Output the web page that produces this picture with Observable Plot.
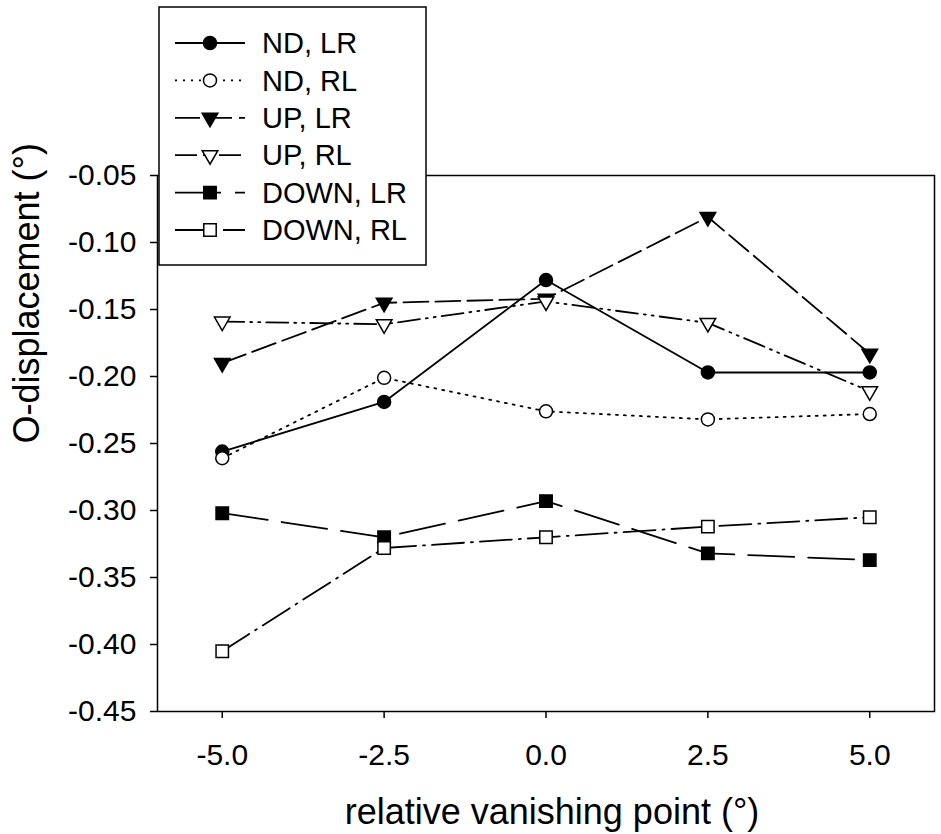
<!DOCTYPE html>
<html>
<head>
<meta charset="utf-8">
<script src="https://cdn.jsdelivr.net/npm/d3@7"></script>
<script src="https://cdn.jsdelivr.net/npm/@observablehq/plot@0.6"></script>
<style>
  html, body { margin: 0; padding: 0; background: white; }
</style>
</head>
<body>
<div id="chart"></div>
<script>
// ---- data ----
const xs = [-5, -2.5, 0, 2.5, 5];
const ndLR   = [-0.256, -0.219, -0.128, -0.197, -0.197];
const ndRL   = [-0.261, -0.201, -0.226, -0.232, -0.228];
const upLR   = [-0.190, -0.145, -0.142, -0.081, -0.183];
const upRL   = [-0.159, -0.161, -0.144, -0.160, -0.211];
const downLR = [-0.302, -0.320, -0.293, -0.332, -0.337];
const downRL = [-0.405, -0.328, -0.320, -0.312, -0.305];

const seriesNames = ["ND, LR", "ND, RL", "UP, LR", "UP, RL", "DOWN, LR", "DOWN, RL"];
const seriesValues = [ndLR, ndRL, upLR, upRL, downLR, downRL];

const xTicks = [-5, -2.5, 0, 2.5, 5];
const xTickLabels = ["-5.0", "-2.5", "0.0", "2.5", "5.0"];
const yTicks = [-0.45, -0.40, -0.35, -0.30, -0.25, -0.20, -0.15, -0.10, -0.05];
const yTickLabels = ["-0.45", "-0.40", "-0.35", "-0.30", "-0.25", "-0.20", "-0.15", "-0.10", "-0.05"];

const xTitle = "relative vanishing point (°)";
const yTitle = "O-displacement (°)";

// ---- styles ----
const styles = [
  {dash: null,               symbol: "circle",   fill: "black", r: 6.5, rotate: 0},
  {dash: "2,6",              symbol: "circle",   fill: "white", r: 6.5, rotate: 0},
  {dash: "25,7",             symbol: "triangle", fill: "black", r: 5.8, rotate: 180},
  {dash: "22,6,2,6,2,6",     symbol: "triangle", fill: "white", r: 5.8, rotate: 180},
  {dash: "46,14",            symbol: "square",   fill: "black", r: 7.0, rotate: 0},
  {dash: "32,7,2,7",         symbol: "square",   fill: "white", r: 7.0, rotate: 0}
];

const rows = [];
seriesNames.forEach((name, s) => {
  xs.forEach((x, i) => rows.push({series: name, s, x, y: seriesValues[s][i]}));
});

const FONT = "'Liberation Sans', Arial, Helvetica, sans-serif";

const marks = [
  Plot.frame({stroke: "black", strokeWidth: 1.5}),
  Plot.axisX({ticks: xTicks, tickFormat: d => xTickLabels[xTicks.indexOf(d)], tickSize: 7, tickPadding: 25, fontSize: 30, label: null, strokeWidth: 1.5}),
  Plot.axisY({ticks: yTicks, tickFormat: d => yTickLabels[yTicks.findIndex(t => Math.abs(t - d) < 1e-9)], tickSize: 7, tickPadding: 14, fontSize: 30, label: null, strokeWidth: 1.5}),
  Plot.text([xTitle], {frameAnchor: "bottom", dy: 101, dx: 6, fontSize: 36, fill: "black", lineAnchor: "middle", text: d => d}),
  Plot.text([yTitle], {frameAnchor: "left", dx: -130, rotate: -90, fontSize: 36, fill: "black", lineAnchor: "middle", text: d => d})
];

styles.forEach((st, s) => {
  const data = rows.filter(r => r.s === s);
  marks.push(Plot.line(data, {x: "x", y: "y", stroke: "black", strokeWidth: 1.8, strokeDasharray: st.dash || undefined}));
});
styles.forEach((st, s) => {
  const data = rows.filter(r => r.s === s);
  marks.push(Plot.dot(data, {x: "x", y: "y", symbol: st.symbol, r: st.r, rotate: st.rotate, fill: st.fill, stroke: "black", strokeWidth: 1.5}));
});

const plot = Plot.plot({
  width: 941,
  height: 834,
  marginLeft: 157,
  marginRight: 7,
  marginTop: 175,
  marginBottom: 123,
  x: {domain: [-6, 6]},
  y: {domain: [-0.45, -0.05]},
  style: {fontFamily: FONT, background: "white", color: "black", overflow: "visible"},
  marks
});

document.getElementById("chart").appendChild(plot);

// ---- legend ----
const svg = d3.select(plot);
const lg = svg.append("g").attr("font-family", FONT).attr("text-anchor", "start");
lg.append("rect").attr("x", 159).attr("y", 7).attr("width", 267).attr("height", 258)
  .attr("fill", "white").attr("stroke", "black").attr("stroke-width", 1.5);
const symMap = {circle: d3.symbolCircle, triangle: d3.symbolTriangle, square: d3.symbolSquare};
seriesNames.forEach((name, s) => {
  const st = styles[s];
  const y = 43 + s * 37.4;
  lg.append("line").attr("x1", 175).attr("x2", 245).attr("y1", y).attr("y2", y)
    .attr("stroke", "black").attr("stroke-width", 1.8)
    .attr("stroke-dasharray", st.dash || null);
  lg.append("path")
    .attr("d", d3.symbol(symMap[st.symbol], Math.PI * st.r * st.r)())
    .attr("transform", `translate(210,${y}) rotate(${st.rotate})`)
    .attr("fill", st.fill).attr("stroke", "black").attr("stroke-width", 1.5);
  lg.append("text").attr("x", 262).attr("y", y).attr("dy", "0.35em")
    .attr("text-anchor", "start")
    .attr("font-size", 29).attr("fill", "black").text(name);
});
</script>
</body>
</html>
